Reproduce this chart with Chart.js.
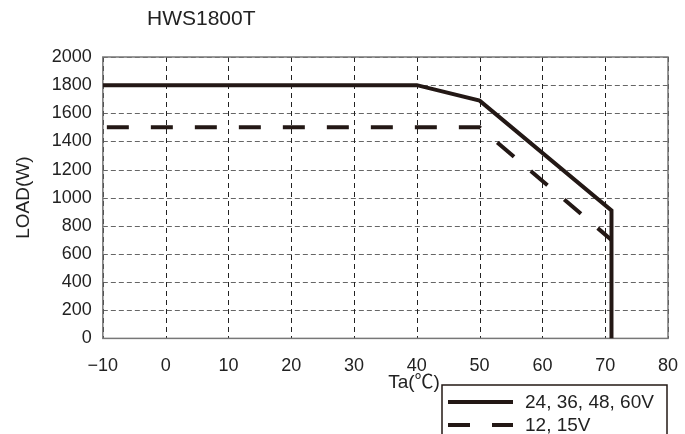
<!DOCTYPE html>
<html>
<head>
<meta charset="utf-8">
<script src="https://cdn.jsdelivr.net/npm/chart.js@4/dist/chart.umd.min.js"></script>
<style>
  html, body { margin: 0; padding: 0; background: #fff; }
  #wrap { width: 685px; height: 434px; position: relative; }
</style>
</head>
<body>
<div id="wrap"><canvas id="myChart" width="685" height="434"></canvas></div>
<script>
// derating curve, HWS1800T
var titleText = "HWS1800T";
var xTitle = "Ta(℃)";
var yTitle = "LOAD(W)";
var seriesNames = ["24, 36, 48, 60V", "12, 15V"];
var tempHigh = [-10, 40, 50, 71, 71];
var loadHigh = [1800, 1800, 1690, 910, 0];
var tempLow = [-10, 50, 71];
var loadLow = [1500, 1500, 700];
var xTicks = [-10, 0, 10, 20, 30, 40, 50, 60, 70, 80];
var yTicks = [0, 200, 400, 600, 800, 1000, 1200, 1400, 1600, 1800, 2000];

var FONT = "'Liberation Sans', Arial, 'Noto Sans CJK JP', sans-serif";
var INK = '#231815';

var toPoints = function(xs, ys) {
  return xs.map(function(x, i) { return { x: x, y: ys[i] }; });
};

// dashed grid + frame, drawn under the lines
var gridPlugin = {
  id: 'gridPlugin',
  beforeDatasetsDraw: function(chart) {
    var ctx = chart.ctx;
    var a = chart.chartArea;
    var xs = chart.scales.x, ys = chart.scales.y;
    ctx.save();
    ctx.lineWidth = 1;
    ctx.setLineDash([5, 3]);
    ctx.strokeStyle = '#666';
    yTicks.forEach(function(v) {
      var y = Math.round(ys.getPixelForValue(v)) + 0.5;
      ctx.beginPath();
      ctx.moveTo(a.left, y);
      ctx.lineTo(a.right, y);
      ctx.stroke();
    });
    ctx.strokeStyle = '#222';
    ctx.setLineDash([5, 4]);
    xTicks.forEach(function(v) {
      var x = Math.round(xs.getPixelForValue(v)) + 0.5;
      ctx.beginPath();
      ctx.moveTo(x, a.top);
      ctx.lineTo(x, a.bottom);
      ctx.stroke();
    });
    ctx.setLineDash([]);
    ctx.strokeStyle = '#777';
    ctx.lineWidth = 1.5;
    ctx.strokeRect(a.left, a.top, a.right - a.left, a.bottom - a.top);
    ctx.restore();
  }
};

// title, x axis title and the boxed legend are drawn by hand
var extras = {
  id: 'extras',
  afterDraw: function(chart) {
    var ctx = chart.ctx;
    ctx.save();
    ctx.fillStyle = '#222';
    ctx.font = '21px ' + FONT;
    ctx.textBaseline = 'middle';
    ctx.textAlign = 'left';
    ctx.fillText(titleText, 147, 19);

    ctx.font = '19px ' + FONT;
    ctx.textAlign = 'center';
    ctx.fillText(xTitle, 414, 383);

    // legend box
    var bx = 442, by = 385, bw = 225, bh = 60;
    ctx.strokeStyle = INK;
    ctx.lineWidth = 1.5;
    ctx.strokeRect(bx, by, bw, bh);
    chart.data.datasets.forEach(function(ds, i) {
      var ly = by + 17 + i * 23;
      ctx.beginPath();
      ctx.setLineDash(ds.borderDash || []);
      ctx.lineDashOffset = 0;
      ctx.lineWidth = ds.borderWidth;
      ctx.strokeStyle = ds.borderColor;
      ctx.moveTo(bx + 6, ly);
      ctx.lineTo(bx + 71, ly);
      ctx.stroke();
      ctx.setLineDash([]);
      ctx.fillStyle = '#222';
      ctx.textAlign = 'left';
      ctx.font = '19px ' + FONT;
      ctx.fillText(ds.label, bx + 83, ly + 1);
    });
    ctx.restore();
  }
};

var ctx = document.getElementById('myChart').getContext('2d');
var chart = new Chart(ctx, {
  type: 'line',
  data: {
    datasets: [{
      label: seriesNames[0],
      data: toPoints(tempHigh, loadHigh),
      borderColor: INK,
      borderWidth: 4,
      pointRadius: 0,
      fill: false,
      tension: 0
    }, {
      label: seriesNames[1],
      data: toPoints(tempLow, loadLow),
      borderColor: INK,
      borderWidth: 4,
      borderDash: [22, 22],
      borderDashOffset: 40,
      pointRadius: 0,
      fill: false,
      tension: 0
    }]
  },
  options: {
    responsive: false,
    animation: false,
    layout: { padding: { top: 57, right: 17, bottom: 40, left: 12 } },
    plugins: {
      legend: { display: false },
      tooltip: { enabled: false }
    },
    scales: {
      x: {
        type: 'linear',
        min: -10,
        max: 80,
        afterBuildTicks: function(axis) {
          axis.ticks = xTicks.map(function(v) { return { value: v }; });
        },
        afterFit: function(axis) {
          axis.paddingRight = 0;
        },
        ticks: {
          color: '#222',
          font: { family: FONT, size: 18 },
          padding: 17,
          maxRotation: 0,
          callback: function(v) { return v < 0 ? '\u2212' + Math.abs(v) : '' + v; }
        },
        grid: { display: false, drawTicks: false },
        border: { display: false }
      },
      y: {
        min: 0,
        max: 2000,
        afterBuildTicks: function(axis) {
          axis.ticks = yTicks.map(function(v) { return { value: v }; });
        },
        ticks: {
          color: '#222',
          font: { family: FONT, size: 18 },
          padding: 11,
          callback: function(v) { return '' + v; }
        },
        title: {
          display: true,
          text: yTitle,
          color: '#222',
          font: { family: FONT, size: 19 },
          padding: { top: 0, bottom: 6 }
        },
        grid: { display: false, drawTicks: false },
        border: { display: false }
      }
    }
  },
  plugins: [gridPlugin, extras]
});
</script>
</body>
</html>
